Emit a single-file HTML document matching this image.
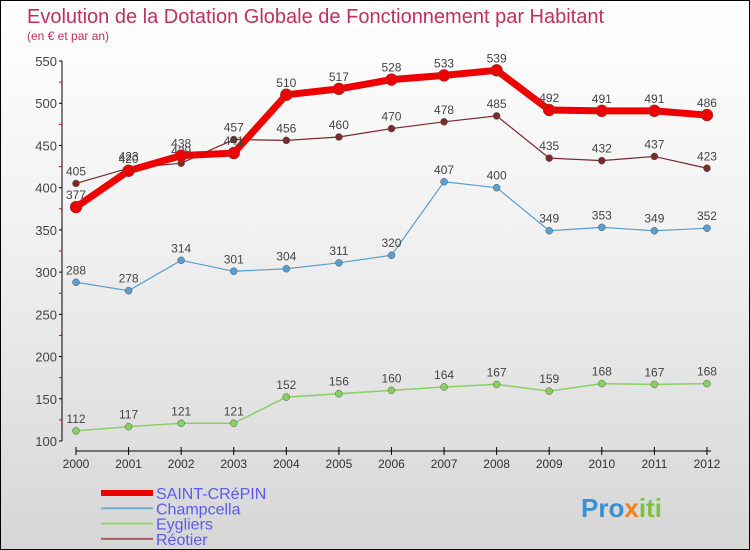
<!DOCTYPE html>
<html><head><meta charset="utf-8"><style>
body{margin:0}
#c{width:748px;height:548px;border:1px solid #000;background:linear-gradient(#ffffff,#f2f2f2 40%,#d6d6d6);position:relative;font-family:"Liberation Sans",sans-serif}
</style></head><body>
<div id="c">
<svg id="s" width="748" height="548" style="position:absolute;left:0;top:0">
<text x="26" y="22" font-size="20" fill="#c0305a">Evolution de la Dotation Globale de Fonctionnement par Habitant</text>
<text x="26" y="39" font-size="12" fill="#c0305a">(en € et par an)</text>
<g id="axes"></g><g id="series"></g><g id="legend"></g>
<text x="580" y="516" font-size="26" font-weight="bold" fill="#3a8fd0">Pro<tspan fill="#f08020">x</tspan><tspan fill="#80c040">iti</tspan></text>
</svg>
</div>
<script>
const years=[2000,2001,2002,2003,2004,2005,2006,2007,2008,2009,2010,2011,2012];
const yTicks=[100,150,200,250,300,350,400,450,500,550];
const saint=[377,420,438,441,510,517,528,533,539,492,491,491,486];
const champ=[288,278,314,301,304,311,320,407,400,349,353,349,352];
const eygl=[112,117,121,121,152,156,160,164,167,159,168,167,168];
const reot=[405,423,429,457,456,460,470,478,485,435,432,437,423];
const NS="http://www.w3.org/2000/svg";
const xs=i=>75+i*52.58, ys=v=>440-(v-100)*0.8444;
function mk(t,a,p){const e=document.createElementNS(NS,t);for(const k in a)e.setAttribute(k,a[k]);p.appendChild(e);return e;}
const ax=document.getElementById('axes');
let yl=mk('line',{x1:61,y1:60,x2:61,y2:440,stroke:'#000'},ax);


yTicks.forEach(v=>{mk('line',{x1:58,x2:61,y1:ys(v),y2:ys(v),stroke:'#000'},ax);
 if(v<550)mk('line',{x1:58,x2:61,y1:ys(v+25),y2:ys(v+25),stroke:'#d00'},ax);
 const t=mk('text',{x:56,y:ys(v)+5,'text-anchor':'end','font-size':13,fill:'#444'},ax);t.textContent=v;
 
 });
let xl=mk('line',{x1:75,y1:450,x2:710,y2:450,stroke:'#000'},ax);


years.forEach((y,i)=>{mk('line',{x1:xs(i),x2:xs(i),y1:446,y2:454,stroke:'#000'},ax);
 const t=mk('text',{x:xs(i),y:467,'text-anchor':'middle','font-size':12,fill:'#333'},ax);t.textContent=y;
 
 });
const se=document.getElementById('series');
function draw(d,col,w,dot,name,lab){
 const g=mk('g',{},se);
 
 
 mk('polyline',{points:d.map((v,i)=>xs(i)+','+ys(v)).join(' '),fill:'none',stroke:col,'stroke-width':w,'stroke-linejoin':'round'},g);
 d.forEach((v,i)=>{const c=mk('circle',{cx:xs(i),cy:ys(v),r:dot,fill:col,stroke:'#555','stroke-width':0.5},g);
  
  
  const t=mk('text',{x:xs(i),y:ys(v)-8,'text-anchor':'middle','font-size':12,fill:'#444'},g);t.textContent=v;});
}
draw(eygl,'#88d060',1.5,3.5,'series-eygliers');
draw(champ,'#5b9fd0',1.2,3.5,'series-champcella');
draw(reot,'#7a2a2a',1.2,3.5,'series-reotier');
draw(saint,'#ee0000',7,6,'series-saint-crepin');
const lg=document.getElementById('legend');
[['SAINT-CRéPIN','#ee0000',6],['Champcella','#7aaed0',2],['Eygliers','#90d870',2],['Réotier','#a06060',2]].forEach((e,i)=>{
 const y=492+i*15.3;
 const g=mk('g',{},lg);
 
 
 mk('line',{x1:100,x2:152,y1:y,y2:y,stroke:e[1],'stroke-width':e[2]},g);
 const t=mk('text',{x:155,y:y+6,'font-size':16,fill:'#5a5af0'},g);t.textContent=e[0];});
</script>
</body></html>
